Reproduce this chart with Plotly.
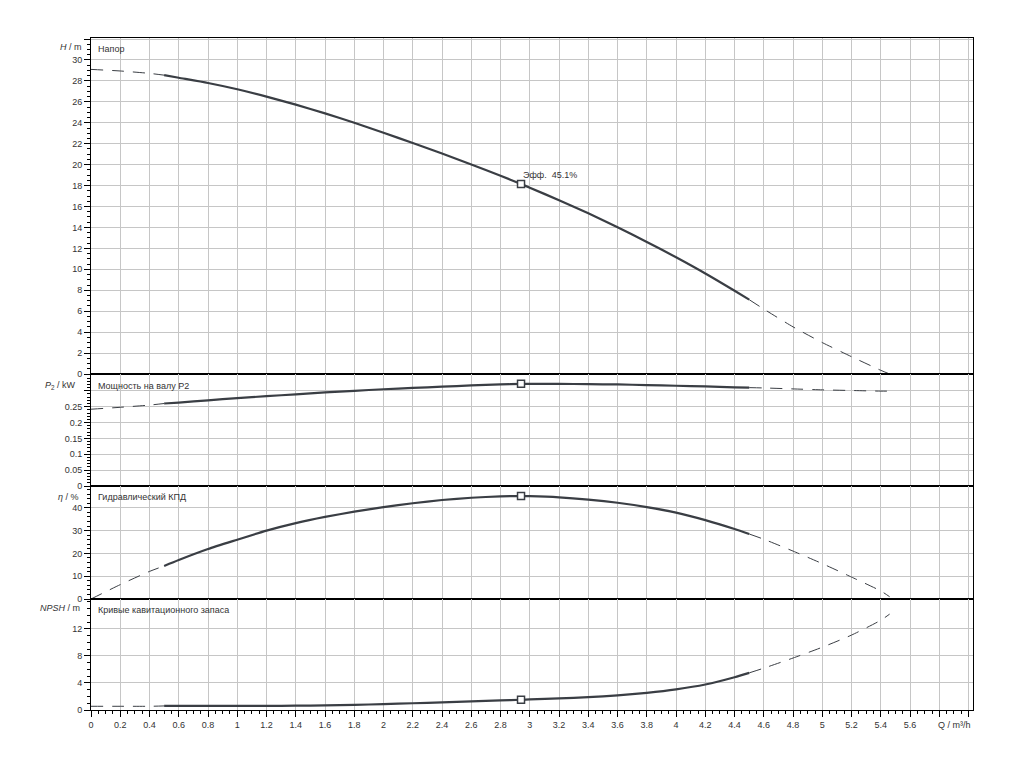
import plotly.graph_objects as go
from plotly.subplots import make_subplots

# ---------------- data ----------------
Q = [0, 0.2, 0.4, 0.5, 0.6, 0.8, 1.0, 1.2, 1.4, 1.6, 1.8, 2.0, 2.2, 2.4, 2.6, 2.8,
     2.94, 3.0, 3.2, 3.4, 3.6, 3.8, 4.0, 4.2, 4.4, 4.5, 4.6, 4.8, 5.0, 5.2, 5.4, 5.46]
H = [29.1, 28.95, 28.72, 28.55, 28.3, 27.8, 27.2, 26.5, 25.73, 24.9, 24.0, 23.05, 22.07, 21.06, 20.02, 18.94,
     18.15, 17.8, 16.6, 15.35, 14.02, 12.62, 11.15, 9.6, 7.95, 7.1, 6.2, 4.5, 3.0, 1.65, 0.35, 0.0]
P2 = [0.242, 0.248, 0.255, 0.260, 0.263, 0.270, 0.277, 0.283, 0.289, 0.295, 0.300, 0.305, 0.309, 0.313, 0.317, 0.320,
      0.322, 0.322, 0.322, 0.321, 0.320, 0.318, 0.316, 0.314, 0.311, 0.310, 0.309, 0.306, 0.303, 0.301, 0.299, 0.299]
ETA = [0, 6.3, 12.1, 14.5, 17.1, 21.9, 26.0, 30.0, 33.3, 36.0, 38.3, 40.3, 42.0, 43.4, 44.4, 45.0,
       45.15, 45.1, 44.6, 43.6, 42.2, 40.3, 37.9, 34.6, 30.7, 28.5, 26.2, 21.0, 15.5, 9.6, 3.5, 1.0]
NPSH = [0.55, 0.55, 0.55, 0.6, 0.6, 0.6, 0.6, 0.61, 0.64, 0.68, 0.76, 0.87, 1.0, 1.14, 1.28, 1.42,
        1.52, 1.57, 1.72, 1.9, 2.17, 2.55, 3.06, 3.78, 4.85, 5.5, 6.2, 7.7, 9.3, 11.1, 13.3, 14.2]

Q_SOLID_START = 0.5
Q_SOLID_END = 4.5
Q_DUTY = 2.94
EFF_TEXT = "Эфф.  45.1%"

PANEL_LABELS = ["Напор", "Мощность на валу P2", "Гидравлический КПД", "Кривые кавитационного запаса"]
AXIS_TITLES = ["<i>H</i> / m", "<i>P</i><sub>2</sub> / kW", "<i>η</i> / %", "<i>NPSH</i> / m"]
X_TITLE = "Q / m³/h"

H_TICKS = list(range(0, 33, 2))
P_TICKS = [0, 0.05, 0.1, 0.15, 0.2, 0.25, 0.3, 0.35]
P_TICKTEXT = ["0", "0.05", "0.1", "0.15", "0.2", "0.25", " ", " "]
ETA_TICKS = [0, 10, 20, 30, 40]
NPSH_TICKS = [0, 4, 8, 12]
X_TICKS = [round(i * 0.2, 1) for i in range(31)]
X_TICKTEXT = [("%g" % v) if v <= 5.6 else " " for v in X_TICKS]

# ---------------- layout constants ----------------
W, HGT = 1024, 768
ML, MR, MT, MB = 91, 51, 38, 58
ROW_H = [336, 112, 113, 111]
RANGES = [[0, 32.1], [0, 0.353], [0, 49.55], [0, 16.44]]
X_RANGE = [0, 6.03]

CURVE = "#3a3e44"
GRID = "#c6c6c6"
FONT = "Liberation Sans, Arial, sans-serif"
TXT = "#333333"

fig = make_subplots(rows=4, cols=1, shared_xaxes=True, vertical_spacing=0,
                    row_heights=ROW_H)

series = [H, P2, ETA, NPSH]
for r, vals in enumerate(series, start=1):
    left = [(q, v) for q, v in zip(Q, vals) if q <= Q_SOLID_START]
    mid = [(q, v) for q, v in zip(Q, vals) if Q_SOLID_START <= q <= Q_SOLID_END]
    right = [(q, v) for q, v in zip(Q, vals) if q >= Q_SOLID_END]
    for pts, solid in ((left, False), (mid, True), (right, False)):
        fig.add_trace(go.Scatter(
            x=[p[0] for p in pts], y=[p[1] for p in pts], mode="lines",
            line=dict(color=CURVE, width=2.2 if solid else 1,
                      dash="solid" if solid else "12px,9px", shape="spline", smoothing=0.6),
            hoverinfo="skip", showlegend=False), row=r, col=1)
    iduty = Q.index(Q_DUTY)
    fig.add_trace(go.Scatter(
        x=[Q_DUTY], y=[vals[iduty]], mode="markers",
        marker=dict(symbol="square", size=7, color="white", line=dict(color=CURVE, width=1.5)),
        hoverinfo="skip", showlegend=False), row=r, col=1)

# axes
for r in range(1, 5):
    bottom = (r == 4)
    fig.update_xaxes(range=X_RANGE, tickmode="array", tickvals=X_TICKS, ticktext=X_TICKTEXT,
                     showgrid=True, gridcolor=GRID, gridwidth=1, zeroline=False,
                     showline=True, linecolor="black", linewidth=1, mirror=True,
                     showticklabels=bottom, ticks="outside" if bottom else "",
                     ticklen=6, tickcolor="black", tickwidth=1,
                     tickfont=dict(family=FONT, size=9, color=TXT),
                     minor=dict(tickvals=[round(i * 0.05, 2) for i in range(121)],
                                ticks="outside" if bottom else "", ticklen=3,
                                tickcolor="black", showgrid=False),
                     row=r, col=1)

yspec = [
    (H_TICKS, [str(v) if v < 32 else " " for v in H_TICKS], [i * 0.5 for i in range(65)]),
    (P_TICKS, P_TICKTEXT, [round(i * 0.01, 2) for i in range(36)]),
    (ETA_TICKS, [str(v) for v in ETA_TICKS], [i * 2 for i in range(25)]),
    (NPSH_TICKS, [str(v) for v in NPSH_TICKS], [i * 1 for i in range(17)]),
]
for r, (tv, tt, mv) in enumerate(yspec, start=1):
    fig.update_yaxes(range=RANGES[r - 1], tickmode="array", tickvals=tv, ticktext=tt,
                     showgrid=True, gridcolor=GRID, gridwidth=1, zeroline=False,
                     showline=True, linecolor="black", linewidth=1, mirror=True,
                     ticks="outside", ticklen=6, tickcolor="black", tickwidth=1,
                     tickfont=dict(family=FONT, size=9, color=TXT),
                     minor=dict(tickvals=mv, ticks="outside", ticklen=3,
                                tickcolor="black", showgrid=False),
                     row=r, col=1)

PW = W - ML - MR
PH = HGT - MT - MB


def px(x):
    return (x - ML) / PW


def py(y):
    return (HGT - MB - y) / PH


ann = []
# axis titles (left, top of each panel)
title_pos = [(84, 47), (78, 385), (81, 497), (82, 608)]
for t, (x, y) in zip(AXIS_TITLES, title_pos):
    ann.append(dict(text=t, x=px(x), y=py(y), xref="paper", yref="paper",
                    xanchor="right", yanchor="middle", showarrow=False,
                    font=dict(family=FONT, size=9, color=TXT)))
# panel labels
label_pos = [(96, 49), (96, 385.5), (96, 497), (96, 610)]
for t, (x, y) in zip(PANEL_LABELS, label_pos):
    ann.append(dict(text=t, x=px(x), y=py(y), xref="paper", yref="paper",
                    xanchor="left", yanchor="middle", showarrow=False,
                    font=dict(family=FONT, size=9, color=TXT)))
# x-axis title
ann.append(dict(text=X_TITLE, x=px(973), y=py(725), xref="paper", yref="paper",
                xanchor="right", yanchor="middle", showarrow=False,
                font=dict(family=FONT, size=9, color=TXT)))
# efficiency label at the duty point
ann.append(dict(text=EFF_TEXT, x=Q_DUTY, y=H[Q.index(Q_DUTY)], xref="x", yref="y",
                xanchor="left", yanchor="bottom", xshift=0, yshift=2, showarrow=False,
                font=dict(family=FONT, size=9, color=TXT)))

fig.update_layout(width=W, height=HGT, margin=dict(l=ML, r=MR, t=MT, b=MB),
                  paper_bgcolor="white", plot_bgcolor="white",
                  annotations=ann, showlegend=False)

fig.write_html("out.html", config={"displayModeBar": False},
               post_script="document.body.style.margin='0';")
